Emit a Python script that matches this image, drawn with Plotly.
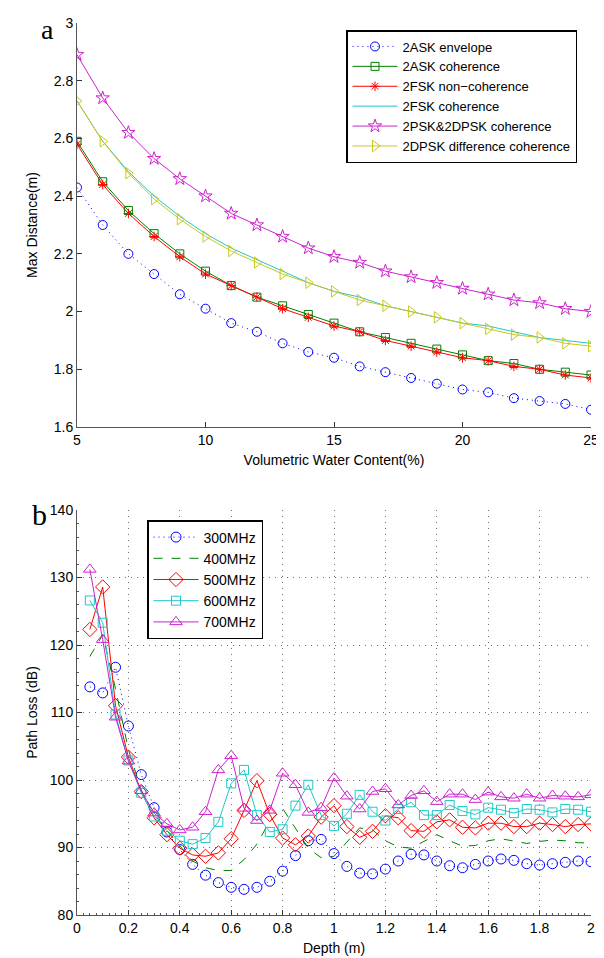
import plotly.graph_objects as go

# ---------------- Panel a data ----------------
water = [5, 6, 7, 8, 9, 10, 11, 12, 13, 14, 15, 16, 17, 18, 19, 20, 21, 22, 23, 24, 25]
ask_env = [2.43, 2.30, 2.20, 2.13, 2.06, 2.01, 1.96, 1.93, 1.89, 1.86, 1.84, 1.81, 1.79, 1.77, 1.75, 1.73, 1.72, 1.70, 1.69, 1.68, 1.66]
ask_coh = [2.59, 2.45, 2.35, 2.27, 2.20, 2.14, 2.09, 2.05, 2.02, 1.99, 1.96, 1.93, 1.91, 1.89, 1.87, 1.85, 1.83, 1.82, 1.80, 1.79, 1.78]
fsk_noncoh = [2.58, 2.44, 2.34, 2.26, 2.19, 2.13, 2.09, 2.05, 2.01, 1.98, 1.95, 1.93, 1.90, 1.88, 1.86, 1.84, 1.83, 1.81, 1.80, 1.78, 1.77]
fsk_coh = [2.73, 2.59, 2.485, 2.40, 2.33, 2.27, 2.22, 2.18, 2.14, 2.10, 2.07, 2.05, 2.02, 2.00, 1.98, 1.96, 1.95, 1.93, 1.91, 1.90, 1.89]
psk_coh = [2.89, 2.74, 2.62, 2.53, 2.46, 2.40, 2.34, 2.30, 2.26, 2.22, 2.19, 2.17, 2.14, 2.12, 2.10, 2.08, 2.06, 2.04, 2.03, 2.01, 2.00]
dpsk_diff = [2.73, 2.59, 2.48, 2.39, 2.32, 2.26, 2.21, 2.17, 2.13, 2.10, 2.07, 2.04, 2.02, 2.00, 1.98, 1.96, 1.94, 1.92, 1.91, 1.89, 1.88]

# ---------------- Panel b data ----------------
depth = [0.05, 0.10, 0.15, 0.20, 0.25, 0.30, 0.35, 0.40, 0.45, 0.50,
         0.55, 0.60, 0.65, 0.70, 0.75, 0.80, 0.85, 0.90, 0.95, 1.00,
         1.05, 1.10, 1.15, 1.20, 1.25, 1.30, 1.35, 1.40, 1.45, 1.50,
         1.55, 1.60, 1.65, 1.70, 1.75, 1.80, 1.85, 1.90, 1.95, 2.00]
pl_300 = [113.8, 112.9, 116.7, 108.0, 100.8, 95.9, 92.3, 89.7, 87.5, 85.9,
          84.8, 84.1, 83.8, 84.1, 85.0, 86.5, 88.8, 91.0, 91.2, 89.1,
          87.2, 86.2, 86.1, 86.8, 88.0, 89.0, 88.9, 88.0, 87.3, 87.0,
          87.5, 88.0, 88.3, 88.1, 87.6, 87.4, 87.6, 87.8, 88.0, 87.9]
pl_400 = [118.3, 121.5, 113.5, 104.5, 98.5, 95.0, 92.5, 90.2, 88.0, 87.0,
          86.6, 86.6, 88.2, 90.5, 93.9, 95.8, 92.9, 89.9, 88.5, 88.7,
          90.8, 92.9, 92.6, 91.0, 90.1, 89.9, 90.9, 91.9, 91.0, 90.2,
          90.3, 91.0, 91.3, 90.9, 90.6, 90.9, 91.1, 91.0, 90.7, 90.7]
pl_500 = [122.3, 128.6, 111.0, 103.4, 98.3, 94.4, 91.9, 89.9, 88.9, 88.7,
          89.2, 91.3, 95.5, 99.9, 94.9, 91.4, 90.4, 91.7, 94.5, 96.2,
          93.1, 91.5, 92.4, 94.7, 94.4, 92.5, 92.4, 93.8, 94.1, 93.0,
          92.9, 93.6, 93.6, 93.1, 93.1, 93.6, 93.4, 93.1, 93.4, 93.5]
pl_600 = [126.6, 123.3, 109.7, 102.9, 98.1, 94.6, 92.5, 91.0, 90.5, 91.4,
          93.8, 99.5, 101.5, 94.8, 92.3, 92.7, 96.2, 99.3, 94.8, 93.2,
          95.0, 97.8, 95.3, 94.0, 95.7, 96.7, 94.8, 94.8, 96.3, 95.4,
          94.9, 95.9, 95.6, 95.1, 95.7, 95.6, 95.2, 95.7, 95.6, 95.3]
pl_700 = [131.2, 120.8, 109.3, 102.8, 98.4, 95.1, 93.5, 92.6, 93.0, 95.3,
          101.5, 103.6, 95.8, 94.0, 95.5, 101.0, 99.3, 95.2, 95.9, 100.3,
          97.6, 95.7, 98.3, 98.7, 96.3, 97.7, 98.4, 96.8, 97.9, 97.9,
          97.1, 98.2, 97.5, 97.3, 97.9, 97.3, 97.7, 97.6, 97.5, 97.8]

BLUE = "#0000FF"
GREEN = "#008000"
RED = "#FF0000"
CYAN = "#1EC8C8"
MAGENTA = "#CC22CC"
YELLOW = "#C8C81E"
FONT = "Liberation Sans, Arial, Helvetica, sans-serif"
SERIF = "Liberation Serif, Times New Roman, serif"

fig = go.Figure()


def add(xs, name, y, color, symbol, dash, size, xa, ya, leg):
    kw = {}
    if symbol:
        kw["marker"] = dict(symbol=symbol, size=size, color=color,
                            line=dict(color=color, width=1))
        mode = "lines+markers"
    else:
        mode = "lines"
    fig.add_trace(go.Scatter(x=xs, y=y, name=name, mode=mode,
                             line=dict(color=color, width=1, dash=dash),
                             xaxis=xa, yaxis=ya, legend=leg, **kw))


DOTS = "1px,4px"
add(water, "2ASK envelope", ask_env, BLUE, "circle-open", DOTS, 9, "x", "y", "legend")
add(water, "2ASK coherence", ask_coh, GREEN, "square-open", "solid", 8, "x", "y", "legend")
add(water, "2FSK non\u2212coherence", fsk_noncoh, RED, "asterisk-open", "solid", 8, "x", "y", "legend")
add(water, "2FSK coherence", fsk_coh, CYAN, None, "solid", 0, "x", "y", "legend")
add(water, "2PSK&2DPSK coherence", psk_coh, MAGENTA, "star-open", "solid", 10, "x", "y", "legend")
add(water, "2DPSK difference coherence", dpsk_diff, YELLOW, "triangle-right-open", "solid", 10, "x", "y", "legend")

add(depth, "300MHz", pl_300, BLUE, "circle-open", DOTS, 10, "x2", "y2", "legend2")
add(depth, "400MHz", pl_400, GREEN, None, "9px,9px", 0, "x2", "y2", "legend2")
add(depth, "500MHz", pl_500, RED, "diamond-open", "solid", 11, "x2", "y2", "legend2")
add(depth, "600MHz", pl_600, CYAN, "square-open", "solid", 9, "x2", "y2", "legend2")
add(depth, "700MHz", pl_700, MAGENTA, "triangle-up-open", "solid", 11, "x2", "y2", "legend2")

L, R, T, B = 69, 21, 15, 51
W, H = 604, 958
ph = H - T - B
pw = W - L - R


def py(pix):  # pixel y from top -> paper
    return (H - B - pix) / ph


def px(pix):  # pixel x from left -> paper
    return (pix - L) / pw


axis_common = dict(showline=True, linecolor="#555555", linewidth=1,
                   ticks="inside", tickcolor="#333333", ticklen=5,
                   tickfont=dict(size=14, color="black", family=FONT),
                   zeroline=False, mirror=False, automargin=False)

GRID = dict(showgrid=True, gridcolor="#707070", griddash="1px,5px", gridwidth=1)

fig.update_layout(
    width=W, height=H,
    margin=dict(l=L, r=R, t=T, b=B),
    paper_bgcolor="white", plot_bgcolor="white",
    font=dict(family=FONT, size=14, color="black"),
    xaxis=dict(domain=[0, 1], anchor="y", range=[5, 25], tickvals=[5, 10, 15, 20, 25],
               showgrid=False,
               title=dict(text="Volumetric Water Content(%)", font=dict(size=14), standoff=8),
               **axis_common),
    yaxis=dict(domain=[py(419), 1], anchor="x", range=[1.6, 3],
               tickvals=[1.6, 1.8, 2.0, 2.2, 2.4, 2.6, 2.8, 3.0],
               ticktext=["1.6", "1.8", "2", "2.2", "2.4", "2.6", "2.8", "3"],
               showgrid=False,
               title=dict(text="Max Distance(m)", font=dict(size=14), standoff=12),
               **axis_common),
    xaxis2=dict(domain=[0, 1], anchor="y2", range=[0, 2],
                tickvals=[0, 0.2, 0.4, 0.6, 0.8, 1, 1.2, 1.4, 1.6, 1.8, 2],
                ticktext=["0", "0.2", "0.4", "0.6", "0.8", "1", "1.2", "1.4", "1.6", "1.8", "2"],
                minor=dict(dtick=0.025, ticks="inside", ticklen=2, tickcolor="#555555", showgrid=False),
                title=dict(text="Depth (m)", font=dict(size=14), standoff=8),
                **GRID, **axis_common),
    yaxis2=dict(domain=[0, py(502)], anchor="x2", range=[80, 140],
                tickvals=[80, 90, 100, 110, 120, 130, 140],
                minor=dict(dtick=2, ticks="inside", ticklen=2, tickcolor="#555555", showgrid=False),
                title=dict(text="Path Loss (dB)", font=dict(size=14), standoff=8),
                **GRID, **axis_common),
    legend=dict(x=px(338), y=py(22), xanchor="left", yanchor="top",
                bordercolor="black", borderwidth=1.5, bgcolor="white",
                font=dict(size=13, family=FONT), itemwidth=45, tracegroupgap=0),
    legend2=dict(x=px(139), y=py(512), xanchor="left", yanchor="top",
                 bordercolor="black", borderwidth=1.5, bgcolor="white",
                 font=dict(size=14, family=FONT), itemwidth=45, tracegroupgap=0),
    showlegend=True,
    annotations=[
        dict(text="a", x=px(31), y=py(21), xref="paper", yref="paper", showarrow=False,
             yanchor="middle", font=dict(family=SERIF, size=28)),
        dict(text="b", x=px(22), y=py(506), xref="paper", yref="paper", showarrow=False,
             yanchor="middle", font=dict(family=SERIF, size=30)),
    ],
)

fig.write_html("out.html")
